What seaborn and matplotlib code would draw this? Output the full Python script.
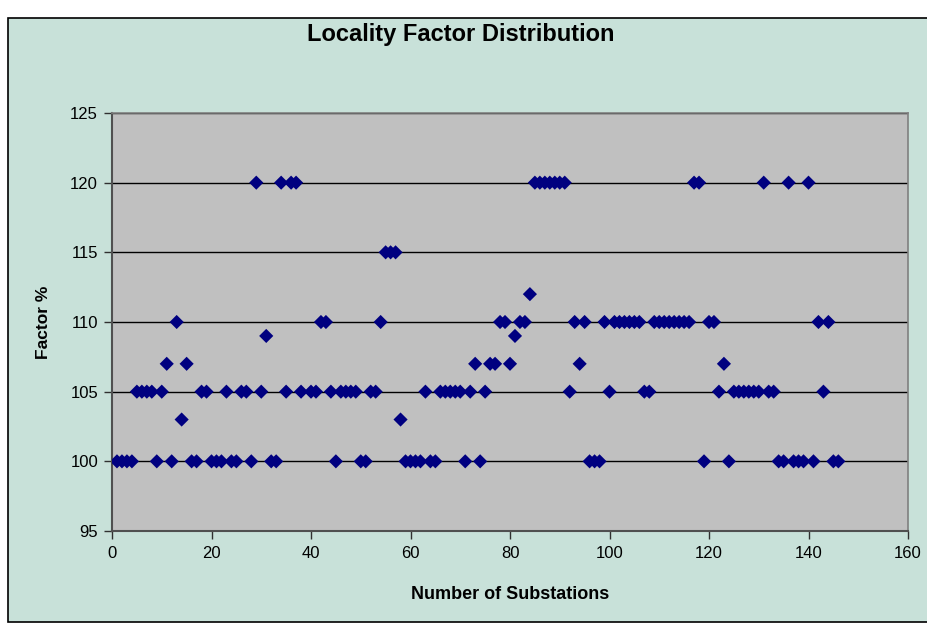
import matplotlib
matplotlib.use("Agg")
import matplotlib.pyplot as plt
import matplotlib.patches as patches
import seaborn as sns
import pandas as pd

# Substation index and its locality factor (%)
substation = [
    1, 2, 3, 4, 5, 6, 7, 8, 9, 10, 11, 12, 13, 14, 15, 16, 17, 18, 19, 20,
    21, 22, 23, 24, 25, 26, 27, 28, 29, 30, 31, 32, 33, 34, 35, 36, 37, 38,
    40, 41, 42, 43, 44, 45, 46, 47, 48, 49, 50, 51, 52, 53, 54, 55, 56, 57,
    58, 59, 60, 61, 62, 63, 64, 65, 66, 67, 68, 69, 70, 71, 72, 73, 74, 75,
    76, 77, 78, 79, 80, 81, 82, 83, 84, 85, 86, 87, 88, 89, 90, 91, 92, 93,
    94, 95, 96, 97, 98, 99, 100, 101, 102, 103, 104, 105, 106, 107, 108, 109,
    110, 111, 112, 113, 114, 115, 116, 117, 118, 119, 120, 121, 122, 123,
    124, 125, 126, 127, 128, 129, 130, 131, 132, 133, 134, 135, 136, 137,
    138, 139, 140, 141, 142, 143, 144, 145, 146,
]
factor = [
    100, 100, 100, 100, 105, 105, 105, 105, 100, 105, 107, 100, 110, 103, 107, 100, 100, 105, 105, 100,
    100, 100, 105, 100, 100, 105, 105, 100, 120, 105, 109, 100, 100, 120, 105, 120, 120, 105,
    105, 105, 110, 110, 105, 100, 105, 105, 105, 105, 100, 100, 105, 105, 110, 115, 115, 115,
    103, 100, 100, 100, 100, 105, 100, 100, 105, 105, 105, 105, 105, 100, 105, 107, 100, 105,
    107, 107, 110, 110, 107, 109, 110, 110, 112, 120, 120, 120, 120, 120, 120, 120, 105, 110,
    107, 110, 100, 100, 100, 110, 105, 110, 110, 110, 110, 110, 110, 105, 105, 110,
    110, 110, 110, 110, 110, 110, 110, 120, 120, 100, 110, 110, 105, 107,
    100, 105, 105, 105, 105, 105, 105, 120, 105, 105, 100, 100, 120, 100,
    100, 100, 120, 100, 110, 105, 110, 100, 100,
]

x_ticks = [0, 20, 40, 60, 80, 100, 120, 140, 160]
y_ticks = [95, 100, 105, 110, 115, 120, 125]

df = pd.DataFrame({"Number of Substations": substation, "Factor %": factor})

sns.set_style("white")
plt.rcParams["font.family"] = ["Liberation Sans", "DejaVu Sans"]
plt.rcParams["text.color"] = "black"
plt.rcParams["axes.labelcolor"] = "black"

fig = plt.figure(figsize=(9.27, 6.24), dpi=100, facecolor="white")

# chart area panel with black outline, kept behind the axes
panel = patches.Rectangle((8 / 927, 2 / 624), 1.0, 1 - 20 / 624,
                          transform=fig.transFigure, facecolor="#C8E1D9",
                          edgecolor="black", linewidth=1.2, zorder=-10)
fig.patches.append(panel)

ax = fig.add_axes([112 / 927, 1 - 531 / 624, (908 - 112) / 927, (531 - 113) / 624])
ax.set_zorder(1)
ax.set_facecolor("#C0C0C0")

sns.scatterplot(data=df, x="Number of Substations", y="Factor %", ax=ax,
                marker="D", s=52, color="#000080", edgecolor="none",
                linewidth=0, zorder=3)

ax.set_xlim(0, 160)
ax.set_ylim(95, 125)
ax.set_xticks(x_ticks)
ax.set_yticks(y_ticks)
ax.yaxis.grid(True, color="black", linewidth=1.0, zorder=1)
ax.xaxis.grid(False)
ax.set_axisbelow(True)

for side in ["top", "right"]:
    ax.spines[side].set_color("#808080")
    ax.spines[side].set_linewidth(1.2)
for side in ["left", "bottom"]:
    ax.spines[side].set_color("#505050")
    ax.spines[side].set_linewidth(1.5)

ax.tick_params(axis="both", which="major", direction="out", length=6,
               width=1, color="#303030", labelsize=12, labelcolor="black",
               left=True, bottom=True)
ax.tick_params(axis="y", pad=4)
ax.tick_params(axis="x", pad=5)

ax.set_xlabel("Number of Substations", fontsize=13, fontweight="bold", labelpad=18)
ax.set_ylabel("Factor %", fontsize=12.5, fontweight="bold", labelpad=14)

fig.text(461 / 927, 1 - 34 / 624, "Locality Factor Distribution",
         ha="center", va="center", fontsize=17, fontweight="bold", color="black")

fig.savefig("out.png", dpi=100, facecolor=fig.get_facecolor())
